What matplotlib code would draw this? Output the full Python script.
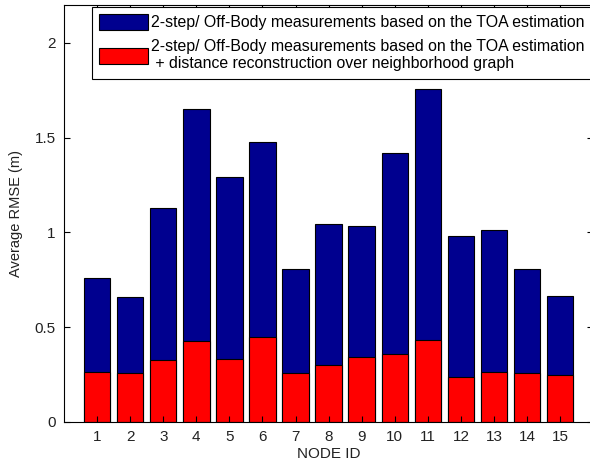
import matplotlib
matplotlib.use('Agg')
import matplotlib.pyplot as plt
import numpy as np

plt.rcParams['font.family'] = ['Liberation Sans', 'DejaVu Sans']

nodes = list(range(1, 16))
rmse_2step = [0.758, 0.661, 1.128, 1.650, 1.293, 1.479, 0.807, 1.043,
              1.034, 1.421, 1.756, 0.983, 1.013, 0.807, 0.667]
rmse_recon = [0.265, 0.260, 0.325, 0.427, 0.331, 0.447, 0.260, 0.299,
              0.345, 0.357, 0.434, 0.236, 0.265, 0.260, 0.248]

labels = ['2-step/ Off-Body measurements based on the TOA estimation',
          '2-step/ Off-Body measurements based on the TOA estimation\n'
          ' + distance reconstruction over neighborhood graph']

fig = plt.figure(figsize=(5.9, 4.68), dpi=100, facecolor='white')
ax = fig.add_axes([0.1085, 0.0983, 0.897, 0.891])

b1 = ax.bar(nodes, rmse_2step, width=0.8, color='#00008F', edgecolor='black', linewidth=0.8)
b2 = ax.bar(nodes, rmse_recon, width=0.8, color='#FF0000', edgecolor='black', linewidth=0.8)

ax.set_xlim(0, 16)
ax.set_ylim(0, 2.2)
ax.set_xticks(nodes)
ax.set_yticks([0, 0.5, 1, 1.5, 2])
ax.set_yticklabels(['0', '0.5', '1', '1.5', '2'])
ax.tick_params(direction='in', top=True, right=True, length=4, labelsize=11, pad=6,
               labelcolor='#222222')
ax.spines['right'].set_visible(False)
ax.set_xlabel('NODE ID', fontsize=11, labelpad=2, color='#222222')
ax.set_ylabel('Average RMSE (m)', fontsize=10.5, labelpad=8, color='#222222')

leg = ax.legend([b1, b2], labels, loc='upper left', bbox_to_anchor=(92 / 590, 1 - 7 / 468),
                bbox_transform=fig.transFigure, fontsize=11.4, fancybox=False,
                edgecolor='black', framealpha=1, handlelength=3.1, handleheight=1.15,
                handletextpad=0.15, borderpad=0.45, labelspacing=0.55, borderaxespad=0)
leg.get_frame().set_linewidth(0.8)

plt.savefig('out.png', dpi=100, facecolor='white')
